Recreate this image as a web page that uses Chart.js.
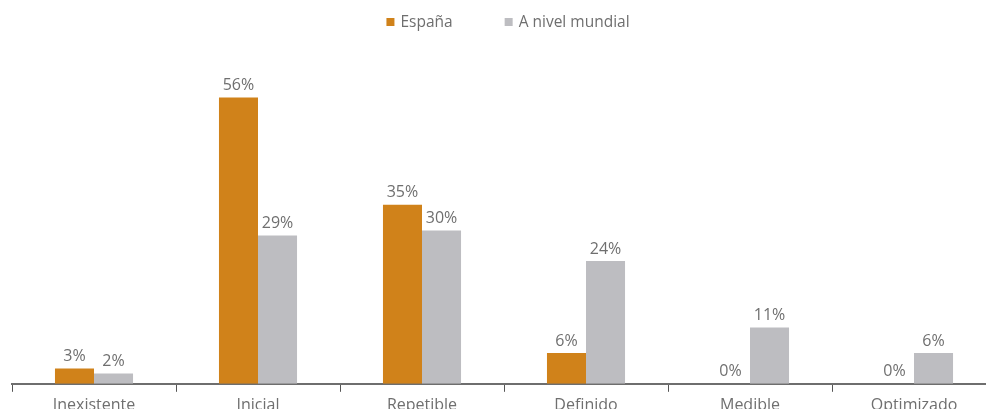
<!DOCTYPE html>
<html>
<head>
<meta charset="utf-8">
<script src="https://cdn.jsdelivr.net/npm/chart.js@4/dist/chart.umd.min.js"></script>
<style>
  html, body { margin: 0; padding: 0; background: #fff; overflow: hidden; }
  #wrap { width: 1008px; height: 419px; }
</style>
</head>
<body>
<div id="wrap"><canvas id="chart"></canvas></div>
<script>
// Madurez: España vs. media mundial (% de respuestas)
const CATEGORIAS = ['Inexistente', 'Inicial', 'Repetible', 'Definido', 'Medible', 'Optimizado'];
const ESPANA = [3, 56, 35, 6, 0, 0];
const MUNDIAL = [2, 29, 30, 24, 11, 6];
const SERIES = ['España', 'A nivel mundial'];

const ORANGE = '#d0821a';
const GREY = '#bdbdc1';
const TEXT = '#6f6f6f';
const FONT = '"Open Sans", "Noto Sans", sans-serif';

// value on top of each bar
const valueLabels = {
  id: 'valueLabels',
  afterDatasetsDraw(chart) {
    const ctx = chart.ctx;
    ctx.save();
    ctx.font = '16px ' + FONT;
    ctx.fillStyle = TEXT;
    ctx.textAlign = 'center';
    ctx.textBaseline = 'bottom';
    chart.data.datasets.forEach((ds, i) => {
      chart.getDatasetMeta(i).data.forEach((bar, j) => {
        ctx.fillText(ds.data[j] + '%', bar.x, bar.y - 4);
      });
    });
    ctx.restore();
  },
};

// small square legend, centred at the top
const topLegend = {
  id: 'topLegend',
  afterDraw(chart) {
    const ctx = chart.ctx;
    const box = 8, gap = 6, spacing = 52, y = 22;
    ctx.save();
    ctx.font = '15.5px ' + FONT;
    ctx.textBaseline = 'middle';
    const items = chart.data.datasets.map((ds) => ({
      text: ds.label, color: ds.backgroundColor, w: box + gap + ctx.measureText(ds.label).width,
    }));
    const total = items.reduce((s, it) => s + it.w, 0) + spacing * (items.length - 1);
    let x = (chart.chartArea.left + chart.chartArea.right) / 2 - total / 2 + 4;
    items.forEach((it) => {
      ctx.fillStyle = it.color;
      ctx.fillRect(x, y - box / 2, box, box);
      ctx.fillStyle = TEXT;
      ctx.fillText(it.text, x + box + gap, y + 1);
      x += it.w + spacing;
    });
    ctx.restore();
  },
};

new Chart(document.getElementById('chart'), {
  type: 'bar',
  data: {
    labels: CATEGORIAS,
    datasets: [
      { label: SERIES[0], data: ESPANA, backgroundColor: ORANGE },
      { label: SERIES[1], data: MUNDIAL, backgroundColor: GREY },
    ],
  },
  options: {
    responsive: true,
    maintainAspectRatio: false,
    animation: false,
    layout: { padding: { top: 77, left: 12, right: 12, bottom: 0 } },
    datasets: { bar: { barPercentage: 1, categoryPercentage: 0.476 } },
    plugins: { legend: { display: false }, tooltip: { enabled: false } },
    scales: {
      y: { display: false, min: 0, max: 60 },
      x: {
        border: { display: true, color: '#6e6e6e', width: 2 },
        grid: { offset: true, drawOnChartArea: false, drawTicks: true, tickLength: 8, color: '#555', lineWidth: 1 },
        ticks: { color: TEXT, font: { family: FONT, size: 16 }, padding: 4 },
      },
    },
  },
  plugins: [valueLabels, topLegend],
});
</script>
</body>
</html>
